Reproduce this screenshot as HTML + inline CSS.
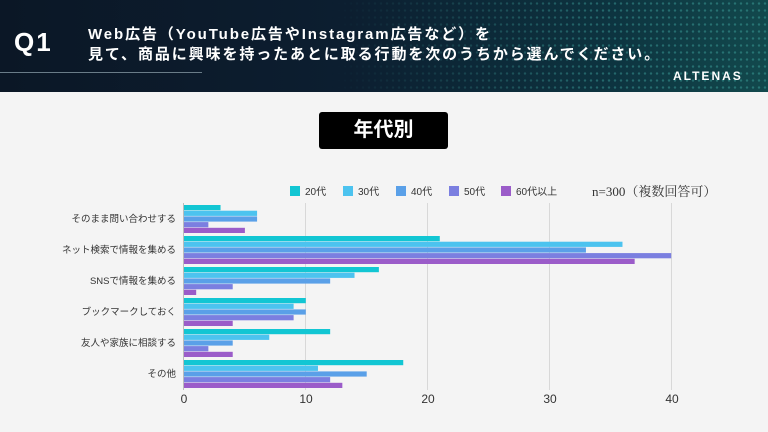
<!DOCTYPE html>
<html><head><meta charset="utf-8"><style>
body{margin:0;width:768px;height:432px;overflow:hidden;background:#f4f4f4;font-family:"Liberation Sans","Noto Sans CJK JP",sans-serif}
#hd{position:absolute;left:0;top:0;width:768px;height:92px;background:linear-gradient(90deg,#0b1726 0%,#0c1e30 45%,#0d3440 80%,#12494d 100%);overflow:hidden}
#dots{position:absolute;left:330px;top:0;width:438px;height:92px;background-image:radial-gradient(circle,rgba(80,200,190,.35) 1px,transparent 1.4px);background-size:6px 7px;-webkit-mask-image:linear-gradient(90deg,transparent,#000 60%);}
</style></head><body>
<div id="hd"><div id="dots"></div>
<div style="position:absolute;left:14px;top:27px;color:#fff;font-size:26px;font-weight:bold;letter-spacing:2px">Q1</div>
<div style="position:absolute;left:0;top:72px;width:202px;height:1px;background:#6a7c88"></div>
<div style="position:absolute;left:88px;top:25px;color:#fff;font-size:15px;font-weight:bold;line-height:20px;letter-spacing:1.9px;white-space:nowrap">Web広告（YouTube広告やInstagram広告など）を<br>見て、商品に興味を持ったあとに取る行動を次のうちから選んでください。</div>
<div style="position:absolute;left:673px;top:69px;color:#fff;font-size:12px;font-weight:bold;letter-spacing:2px">ALTENAS</div>
</div>
<div style="position:absolute;left:319px;top:112px;width:129px;height:37px;background:#000;border-radius:3px;color:#fff;font-size:20px;font-weight:bold;text-align:center;line-height:37px">年代別</div>
<svg width="768" height="432" style="position:absolute;left:0;top:0" font-family="Liberation Sans,Noto Sans CJK JP,sans-serif">
<g font-size="10" fill="#333">
<rect x="290" y="186" width="10" height="10" fill="#12c6d3"/><text x="305" y="195">20代</text>
<rect x="343" y="186" width="10" height="10" fill="#4cc3ef"/><text x="358" y="195">30代</text>
<rect x="396" y="186" width="10" height="10" fill="#5aa0e8"/><text x="411" y="195">40代</text>
<rect x="449" y="186" width="10" height="10" fill="#7b7fe0"/><text x="464" y="195">50代</text>
<rect x="501" y="186" width="10" height="10" fill="#9b5cc9"/><text x="516" y="195">60代以上</text>
</g>
<text x="592" y="196" font-size="13" fill="#333" font-family="Liberation Serif,Noto Serif CJK SC,serif">n=300（複数回答可）</text>
<g stroke="#d8d8d8" stroke-width="1">
<line x1="305.5" y1="203" x2="305.5" y2="390"/><line x1="427.5" y1="203" x2="427.5" y2="390"/><line x1="549.5" y1="203" x2="549.5" y2="390"/><line x1="671.5" y1="203" x2="671.5" y2="390"/>
</g>
<line x1="183.5" y1="203" x2="183.5" y2="390" stroke="#bbb"/>
<g id="bars"></g>
<g font-size="12" fill="#333" text-anchor="middle">
<text x="184" y="403">0</text><text x="306" y="403">10</text><text x="428" y="403">20</text><text x="550" y="403">30</text><text x="672" y="403">40</text>
</g>
<g font-size="9.5" fill="#333" text-anchor="end">
<text x="176" y="222">そのまま問い合わせする</text>
<text x="176" y="253">ネット検索で情報を集める</text>
<text x="176" y="284">SNSで情報を集める</text>
<text x="176" y="315">ブックマークしておく</text>
<text x="176" y="346">友人や家族に相談する</text>
<text x="176" y="377">その他</text>
</g>
</svg>
<script>
var d=[[3,6,6,2,5],[21,36,33,40,37],[16,14,12,4,1],[10,9,10,9,4],[12,7,4,2,4],[18,11,15,12,13]];
var c=["#12c6d3","#4cc3ef","#5aa0e8","#7b7fe0","#9b5cc9"];
var s="";
d.forEach(function(g,i){g.forEach(function(v,j){s+='<rect x="184" y="'+(205+i*31+j*5.7)+'" width="'+(v*12.18)+'" height="5.2" fill="'+c[j]+'"/>';});});
document.getElementById("bars").innerHTML=s;
</script>
</body></html>
